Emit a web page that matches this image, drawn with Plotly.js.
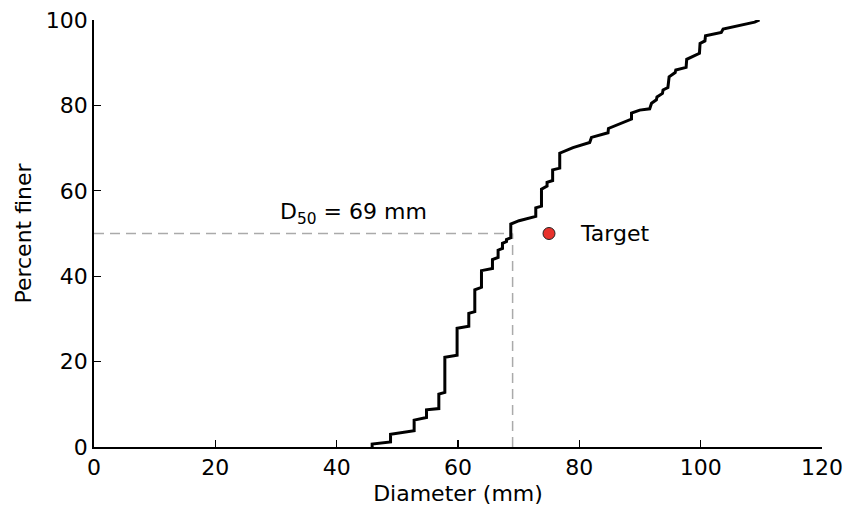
<!DOCTYPE html>
<html>
<head>
<meta charset="utf-8">
<script src="https://cdn.plot.ly/plotly-3.0.1.min.js"></script>
<style>html,body{margin:0;padding:0;background:#fff;}#chart{width:845px;height:511px;}</style>
</head>
<body>
<div id="chart"></div>
<script>
// Grain size distribution curve vertices (diameter mm, percent finer)
const diameter = [45.85, 45.85, 48.88, 48.88, 52.77, 52.77, 54.81, 54.81, 56.84, 56.84, 57.83, 57.83, 59.85, 59.85, 61.78, 61.78, 62.77, 62.77, 63.87, 63.87, 65.68, 65.68, 66.61, 66.61, 67.33, 67.33, 67.99, 67.99, 68.70, 68.70, 70.07, 72.82, 72.82, 73.76, 73.76, 74.68, 74.68, 75.6, 75.6, 76.77, 76.77, 78.96, 81.71, 82.0, 84.73, 84.8, 88.6, 88.6, 89.95, 91.6, 91.9, 92.7, 92.8, 93.7, 93.8, 94.6, 94.8, 95.8, 95.9, 97.6, 97.7, 99.8, 99.9, 100.7, 100.8, 103.4, 103.7, 106.4, 108.9, 109.7];
const percentFiner = [0, 0.7, 1.2, 3.0, 3.8, 6.3, 6.9, 8.7, 9.0, 12.4, 12.8, 21.0, 21.5, 27.8, 28.3, 31.3, 31.7, 36.8, 37.4, 41.3, 41.8, 43.9, 44.4, 46.1, 46.5, 47.7, 48.1, 48.6, 49.0, 52.2, 53.0, 54.0, 56.0, 56.4, 60.4, 61.1, 62.0, 62.4, 64.9, 65.3, 68.8, 70.1, 71.3, 72.5, 73.6, 74.6, 76.8, 78.2, 78.9, 79.2, 80.5, 81.3, 82.0, 82.8, 83.6, 84.2, 86.7, 87.7, 88.3, 88.9, 90.8, 92.2, 94.5, 95.1, 96.3, 97.1, 97.9, 98.8, 99.5, 100];
const d50 = 69;
const d50Percent = 50;
const target = {x: [75], y: [50]};
const xTicks = [0, 20, 40, 60, 80, 100, 120];
const yTicks = [0, 20, 40, 60, 80, 100];

const font = 'DejaVu Sans, Verdana, sans-serif';

const traces = [
  {x: [0, d50], y: [d50Percent, d50Percent], mode: 'lines', line: {color: '#aaaaaa', width: 1.5, dash: '10px,6px'}, hoverinfo: 'skip'},
  {x: [d50, d50], y: [0, d50Percent], mode: 'lines', line: {color: '#aaaaaa', width: 1.5, dash: '10px,6px'}, hoverinfo: 'skip'},
  {x: diameter, y: percentFiner, mode: 'lines', line: {color: '#000000', width: 3}},
  {x: target.x, y: target.y, mode: 'markers', marker: {color: '#e8322c', size: 12, line: {color: '#222', width: 1}}}
];

const layout = {
  width: 845, height: 511,
  margin: {l: 94, r: 23, t: 20, b: 64},
  paper_bgcolor: '#fff', plot_bgcolor: '#fff',
  showlegend: false,
  font: {family: font, size: 22, color: '#000'},
  xaxis: {
    range: [0, 120], tickvals: xTicks, ticks: 'inside', ticklen: 7, tickwidth: 1.3, tickcolor: '#000',
    showline: true, linecolor: '#000', linewidth: 1.8, showgrid: false, zeroline: false,
    tickfont: {family: font, size: 22, color: '#000'},
    title: {text: 'Diameter (mm)', font: {family: font, size: 22, color: '#000'}, standoff: 6}
  },
  yaxis: {
    range: [0, 100], tickvals: yTicks, ticks: 'inside', ticklen: 7, tickwidth: 1.3, tickcolor: '#000',
    showline: true, linecolor: '#000', linewidth: 1.8, showgrid: false, zeroline: false,
    tickfont: {family: font, size: 22, color: '#000'},
    title: {text: 'Percent finer', font: {family: font, size: 22, color: '#000'}, standoff: 8}
  },
  annotations: [
    {x: 42.7, y: 54.6, xref: 'x', yref: 'y', text: 'D<sub>50</sub> = ' + d50 + ' mm', showarrow: false, font: {family: font, size: 22, color: '#000'}},
    {x: 79.7, y: 50, xref: 'x', yref: 'y', text: 'Target', xanchor: 'left', showarrow: false, font: {family: font, size: 22, color: '#000'}}
  ]
};

Plotly.newPlot('chart', traces, layout, {displayModeBar: false, staticPlot: true});
</script>
</body>
</html>
